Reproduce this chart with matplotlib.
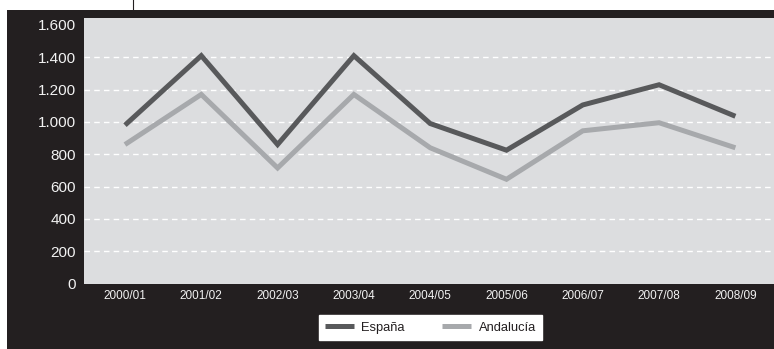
import matplotlib
matplotlib.use("Agg")
import matplotlib.pyplot as plt
from matplotlib.patches import Rectangle
from matplotlib.lines import Line2D

categories = ["2000/01", "2001/02", "2002/03", "2003/04", "2004/05",
              "2005/06", "2006/07", "2007/08", "2008/09"]
espana = [980, 1410, 860, 1410, 990, 825, 1105, 1230, 1035]
andalucia = [860, 1170, 715, 1170, 840, 645, 945, 995, 840]
yticks = [0, 200, 400, 600, 800, 1000, 1200, 1400, 1600]
ytick_labels = ["0", "200", "400", "600", "800", "1.000", "1.200", "1.400", "1.600"]

plt.rcParams['font.family'] = ['Liberation Sans', 'DejaVu Sans']

W, H = 774, 349
fig = plt.figure(figsize=(W / 100, H / 100), dpi=100)
fig.patch.set_facecolor("white")

# black panel
fig.add_artist(Rectangle((7 / W, 0), 1 - 7 / W, (H - 9.5) / H,
                         transform=fig.transFigure, facecolor="#231f20",
                         edgecolor="none", zorder=0))
# small vertical tick line at top
fig.add_artist(Line2D([133 / W, 133 / W], [(H - 9.5) / H, 1.0],
                      transform=fig.transFigure, color="#231f20", lw=0.8))

ax = fig.add_axes([84 / W, (H - 283.5) / H, 1 - 84 / W, (283.5 - 17.7) / H])
ax.set_facecolor("#dcdddf")

x = list(range(len(categories)))
for v in yticks[1:-1]:
    ax.axhline(v, color="white", lw=1.0, ls=(0, (4, 3)), zorder=1)

ax.plot(x, espana, color="#58595b", lw=3.6, label="España", zorder=3,
        solid_joinstyle="miter", solid_capstyle="butt")
ax.plot(x, andalucia, color="#a7a9ac", lw=3.6, label="Andalucía", zorder=2,
        solid_joinstyle="miter", solid_capstyle="butt")

ax.set_xlim(-0.537, 8.506)
ax.set_ylim(0, 1645)
ax.set_xticks(x)
ax.set_xticklabels(categories, color="#f2f2f2", fontsize=8.5)
ax.set_yticks(yticks)
ax.set_yticklabels(ytick_labels, color="#f2f2f2", fontsize=11)
ax.tick_params(axis="both", length=0)
ax.tick_params(axis="y", pad=6)
ax.tick_params(axis="x", pad=5)
for s in ax.spines.values():
    s.set_visible(False)

leg = fig.legend(loc="center", bbox_to_anchor=(430.5 / W, (H - 327.5) / H),
                 ncol=2, frameon=True, fancybox=False, framealpha=1,
                 facecolor="white", edgecolor="white", fontsize=9.3,
                 handlelength=2.2, handletextpad=0.6, columnspacing=2.9,
                 borderpad=0.5, borderaxespad=0)
for t in leg.get_texts():
    t.set_color("#231f20")

fig.savefig("out.png", dpi=100)
